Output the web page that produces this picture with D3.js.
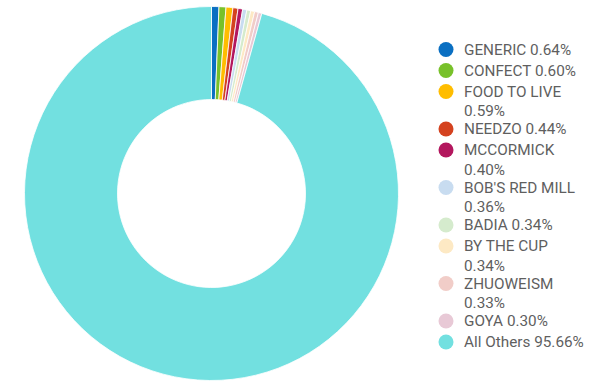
<!DOCTYPE html>
<html><head><meta charset="utf-8">
<script src="https://cdn.jsdelivr.net/npm/d3@7"></script>
<style>html,body{margin:0;padding:0;background:#fff;}svg{display:block;}</style>
</head><body>
<svg id="chart" width="600" height="391"></svg>
<script>
const categories = ["GENERIC","CONFECT","FOOD TO LIVE","NEEDZO","MCCORMICK","BOB'S RED MILL","BADIA","BY THE CUP","ZHUOWEISM","GOYA","All Others"];
const shares = [0.64,0.60,0.59,0.44,0.40,0.36,0.34,0.34,0.33,0.30,95.66];
const colors = ["#0a6fc2","#78c12a","#ffbd00","#d4421f","#b3175e","#c8dcf0","#d5ebcd","#fde9c4","#f1cdc8","#e8c9d6","#72e0e0"];

const svg = d3.select("#chart");
const cx = 211.5, cy = 193.5, R = 187, r = 94;
const data = categories.map((c,i)=>({name:c, value:shares[i], color:colors[i]}));
const pie = d3.pie().value(d=>d.value).sort(null);
const arc = d3.arc().innerRadius(r).outerRadius(R);
const g = svg.append("g").attr("transform",`translate(${cx},${cy})`);
g.selectAll("path").data(pie(data)).join("path")
  .attr("d",arc).attr("fill",d=>d.data.color)
  .attr("stroke","#fff").attr("stroke-width",0.8);

const lg = svg.append("g").attr("font-family","Roboto, sans-serif").attr("font-size",15.3).attr("fill","#5f5f5f");
const maxW = 123, lineH = 19.5, step1 = 21, step2extra = 16.5;
let y = 49.5;
data.forEach(d=>{
  const label = `${d.name} ${d.value.toFixed(2)}%`;
  const t = lg.append("text").attr("x",464).attr("y",y);
  const words = label.split(" ");
  let lines = [], cur = "";
  const probe = lg.append("text").attr("visibility","hidden");
  words.forEach(w=>{
    const test = cur ? cur+" "+w : w;
    probe.text(test);
    if (probe.node().getComputedTextLength() > maxW && cur) { lines.push(cur); cur = w; }
    else cur = test;
  });
  lines.push(cur);
  probe.remove();
  lines.forEach((ln,i)=>t.append("tspan").attr("x",464).attr("dy", i===0? "0.35em" : lineH).text(ln));
  lg.append("circle").attr("cx",446).attr("cy",y).attr("r",7.5).attr("fill",d.color);
  y += step1 + (lines.length-1)*step2extra;
});
</script>
</body></html>
